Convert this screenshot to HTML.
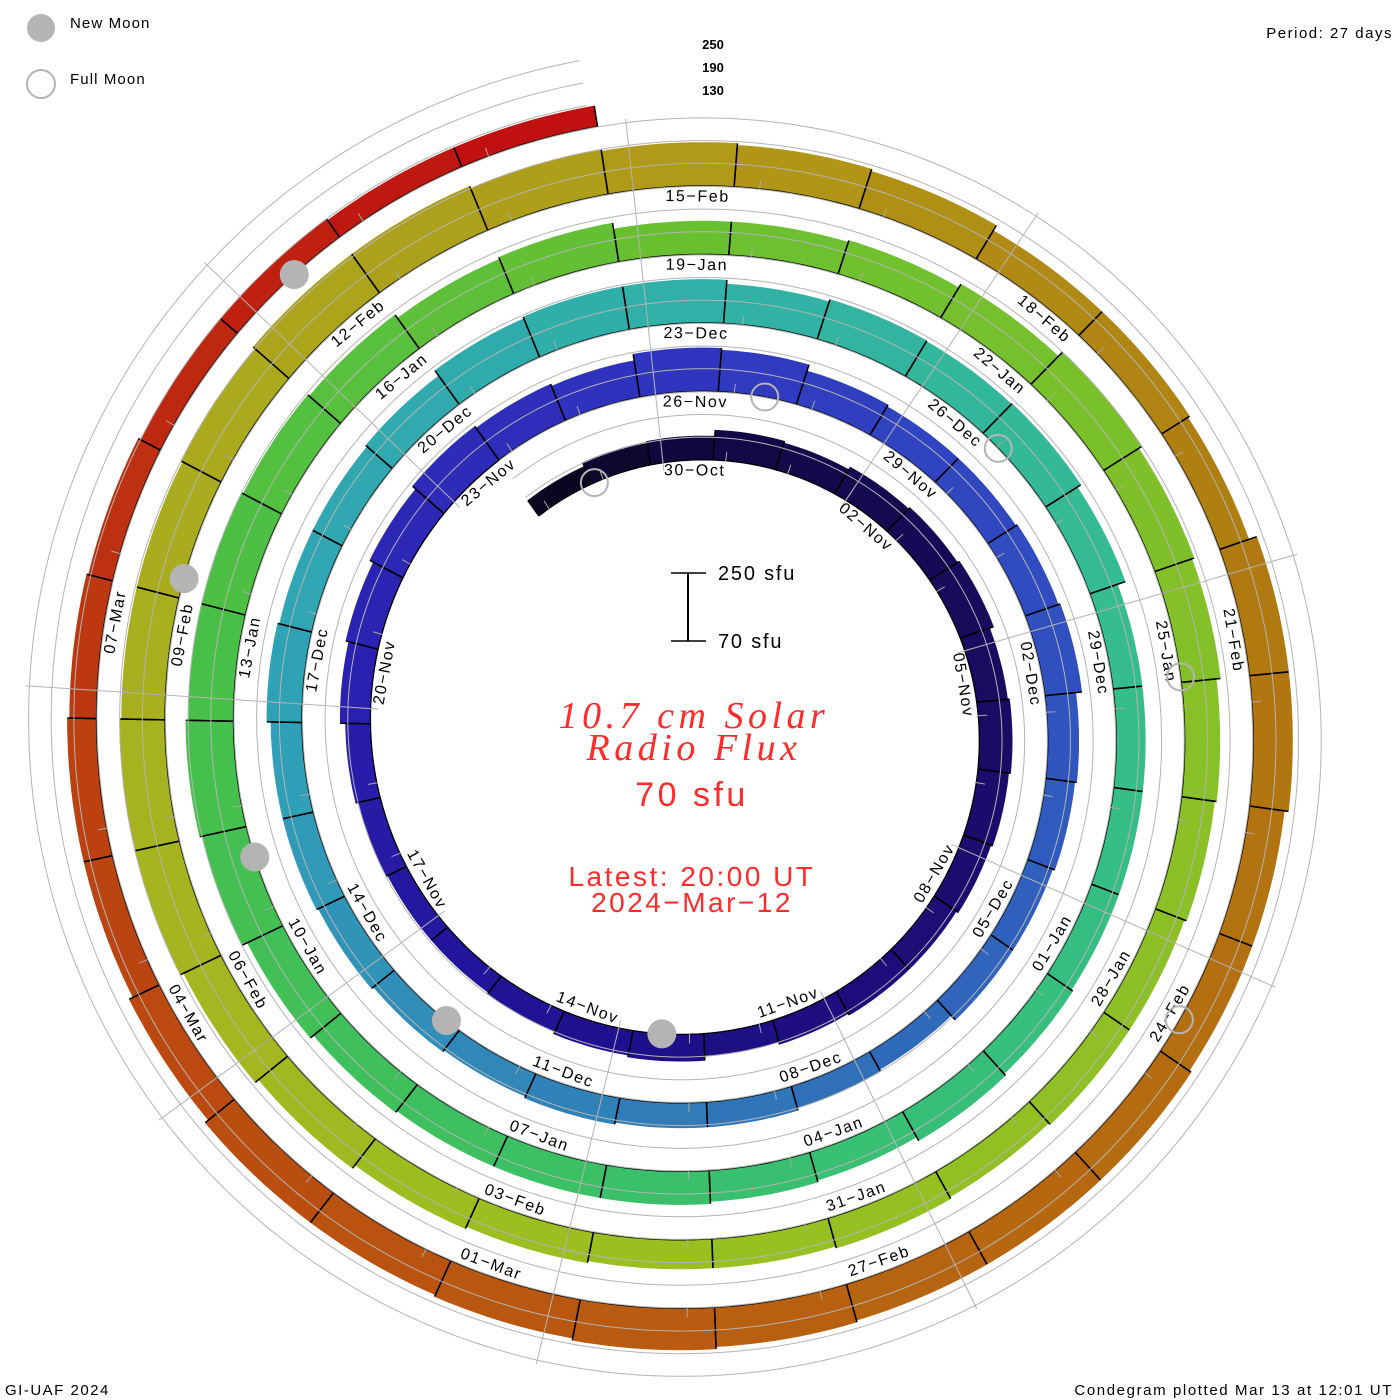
<!DOCTYPE html>
<html><head><meta charset="utf-8"><style>
html,body{margin:0;padding:0;background:#fff;}
svg{display:block;font-family:"Liberation Sans",sans-serif;}
</style></head><body>
<svg id="chart" width="1400" height="1400" viewBox="0 0 1400 1400" xmlns="http://www.w3.org/2000/svg">
<rect width="1400" height="1400" fill="#fff"/>
<g id="bars"></g>
<g id="levels"></g>
<g id="grid"></g>
<g id="ticks"></g>
<g id="labels"></g>
<g id="moons"></g>

<g>
<circle cx="41" cy="28" r="14" fill="#b4b4b4"/>
<text x="70" y="28" font-size="15" letter-spacing="1.1" fill="#000">New Moon</text>
<circle cx="41" cy="84" r="14" fill="none" stroke="#b4b4b4" stroke-width="2"/>
<text x="70" y="84" font-size="15" letter-spacing="1.1" fill="#000">Full Moon</text>
</g>
<text x="1393" y="38" font-size="15" letter-spacing="1.5" text-anchor="end">Period: 27 days</text>
<text x="713" y="49" font-size="13" font-weight="bold" text-anchor="middle">250</text>
<text x="713" y="72" font-size="13" font-weight="bold" text-anchor="middle">190</text>
<text x="713" y="95" font-size="13" font-weight="bold" text-anchor="middle">130</text>

<g>
<line x1="688" y1="573" x2="688" y2="641" stroke="#000" stroke-width="2"/>
<line x1="671" y1="573" x2="706" y2="573" stroke="#000" stroke-width="1.5"/>
<line x1="671" y1="641" x2="706" y2="641" stroke="#000" stroke-width="1.5"/>
<text x="718" y="580" font-size="20" letter-spacing="1.8">250 sfu</text>
<text x="718" y="648" font-size="20" letter-spacing="1.8">70 sfu</text>
</g>
<g fill="#ff2a2a" text-anchor="middle">
<text x="694" y="728" font-size="38" letter-spacing="4.5" font-style="italic" font-family="Liberation Serif, serif">10.7 cm Solar</text>
<text x="694" y="760" font-size="38" letter-spacing="4.5" font-style="italic" font-family="Liberation Serif, serif">Radio Flux</text>
<text x="692" y="806" font-size="34" letter-spacing="3.5">70 sfu</text>
<text x="692" y="886" font-size="28" letter-spacing="2.5">Latest: 20:00 UT</text>
<text x="692" y="912" font-size="28" letter-spacing="2.5">2024−Mar−12</text>
</g>
<text x="5" y="1395" font-size="15" letter-spacing="1.5">GI-UAF 2024</text>
<text x="1393" y="1395" font-size="15" letter-spacing="1.6" text-anchor="end">Condegram plotted Mar 13 at 12:01 UT</text>
</svg>
<script>
// Daily flux (sfu), 28-Oct-2023 .. 12-Mar-2024 (index 0 = 28-Oct)
const startDate = [2023, 9, 28];
const fluxRot1 = [120,131,133,149,144,152,157,163,152,157,152,147,141,141,136,130,141,136,130,125,125,130,136,150,158,169,180,174,168];
const fluxRot2 = [185,180,163,158,158,163,168,152,147,141,141,125,130,136,136,141,136,141,147,152,152,163,158,158,163,180,185];
const fluxRot3 = [185,174,180,178,180,169,147,147,147,147,152,158,147,152,158,158,158,163,174,190,196,190,190,185,180,169,174];
const fluxRot4 = [158,158,163,174,190,180,174,163,158,152,152,147,152,147,147,152,158,169,180,190,190,185,185,190,196,196,190];
const fluxRot5 = [185,180,174,158,158,152,174,174,163,163,169,169,169,174,180,174,169,169,158,147,147,141,136,130,130,125,125];
const flux = [].concat(fluxRot1, fluxRot2, fluxRot3, fluxRot4, fluxRot5);
// Moon phases as fractional day index (0 = 30-Oct 00UT)
const newMoons = [14.39, 43.98, 73.5, 102.96, 132.38];
const fullMoons = [-1.15, 28.39, 58.02, 87.75, 117.52];
const months = ["Jan","Feb","Mar","Apr","May","Jun","Jul","Aug","Sep","Oct","Nov","Dec"];
const levelValues = [130, 190, 250];

const NS = "http://www.w3.org/2000/svg";
const cx = 692, cy = 730, R0 = 270, PITCH = 68.5, DAY = 360/27, PX = 68/180;
const OFF = -8.9;
const FIRST = -2;
function R(t){ return R0 + PITCH*t/360; }
function pt(r,t){ const a=t*Math.PI/180; return [cx + r*Math.sin(a), cy - r*Math.cos(a)]; }
function thick(v){ return Math.max(0,(v-70)*PX); }
function mk(tag, attrs, parent){ const e=document.createElementNS(NS,tag); for(const k in attrs) e.setAttribute(k,attrs[k]); parent.appendChild(e); return e; }

const stops = [[-2,"#0a0520"],[0,"#120840"],[6,"#1a0a60"],[15,"#201090"],[21,"#2a20b0"],[27,"#3035c0"],[33,"#3050c0"],[40,"#3075b8"],[47,"#30a0b8"],[54,"#30b0a8"],[60,"#35bd90"],[67,"#38c070"],[75,"#48c048"],[81,"#68c030"],[88,"#88c028"],[95,"#9ac020"],[102,"#a8b020"],[108,"#b09a18"],[114,"#b07a10"],[121,"#b86010"],[128,"#bc4010"],[134,"#c01010"]];
function hex(h){ return [parseInt(h.substr(1,2),16),parseInt(h.substr(3,2),16),parseInt(h.substr(5,2),16)]; }
function color(i){
  for(let k=0;k<stops.length-1;k++){
    if(i>=stops[k][0] && i<=stops[k+1][0]){
      const f=(i-stops[k][0])/(stops[k+1][0]-stops[k][0]); const a=hex(stops[k][1]), b=hex(stops[k+1][1]);
      return "rgb("+a.map((v,j)=>Math.round(v+(b[j]-v)*f)).join(",")+")";
    }
  }
  return stops[stops.length-1][1];
}
function fmtDate(i){
  const d = new Date(Date.UTC(2023, 9, 30 + i));
  const dd = String(d.getUTCDate()).padStart(2,"0");
  return dd + "−" + months[d.getUTCMonth()];
}

const gBars = document.getElementById("bars");
const gOut = mk("g",{},gBars);
const tStart = OFF + DAY*FIRST, tEnd = OFF + DAY*(FIRST + flux.length);
flux.forEach((v,k)=>{
  const i = FIRST + k, a = OFF + DAY*i, b = a + DAY, th = thick(v);
  const N = 12; let inner=[], outer=[];
  for(let s=0;s<=N;s++){ const t=a+(b-a)*s/N; inner.push(pt(R(t),t)); outer.push(pt(R(t)+th,t)); }
  const d = "M"+inner.map(p=>p[0].toFixed(1)+","+p[1].toFixed(1)).join("L")+"L"+outer.reverse().map(p=>p[0].toFixed(1)+","+p[1].toFixed(1)).join("L")+"Z";
  const p = mk("path",{d:d, fill:color(i), stroke:color(i), "stroke-width":0.6},gBars);
  
  
  const il = mk("path",{d:"M"+inner.map(q=>q[0].toFixed(1)+","+q[1].toFixed(1)).join("L"), fill:"none", stroke:"#000", "stroke-width":1.3},gOut);
  
  
  [a,b].forEach(t=>{
    const p1=pt(R(t),t), p2=pt(R(t)+th,t);
    const ln = mk("line",{x1:p1[0],y1:p1[1],x2:p2[0],y2:p2[1],stroke:"#000","stroke-width":1.5},gOut);
    
    
  });
});
gBars.appendChild(gOut);

const gLev = document.getElementById("levels");
levelValues.forEach(lv=>{
  let pts=[]; for(let t=tStart;t<=tEnd+0.01;t+=1){ pts.push(pt(R(t)+thick(lv),t)); }
  const e = mk("path",{d:"M"+pts.map(p=>p[0].toFixed(1)+","+p[1].toFixed(1)).join("L"), fill:"none", stroke:"#b4b4b4", "stroke-width":1},gLev);
  
  
});

const gGrid = document.getElementById("grid");
for(let k=0;k<9;k++){
  const t = -6.2 + 40*k;
  const p1 = pt(R(t)-8,t), p2 = pt(R(t+1440)+72,t);
  const e = mk("line",{x1:p1[0],y1:p1[1],x2:p2[0],y2:p2[1],stroke:"#b4b4b4","stroke-width":1},gGrid);
  
  
}

const gT = document.getElementById("ticks");
for(let k=0;k<flux.length;k++){
  const i = FIRST + k, t = -6.2 + DAY*i;
  if(t<tStart||t>tEnd) continue;
  const p1=pt(R(t)-1,t), p2=pt(R(t)+9,t);
  const e = mk("line",{x1:p1[0],y1:p1[1],x2:p2[0],y2:p2[1],stroke:"#a8a8a8","stroke-width":1},gT);
  
  
}

const gL = document.getElementById("labels");
for(let i=0;i<=129;i+=3){
  const t = 0.6 + DAY*i; const p = pt(R(t)-11,t);
  const tm = ((t%360)+360)%360; const rot = (tm>90 && tm<270) ? t-180 : t;
  const e = mk("text",{x:p[0].toFixed(1),y:p[1].toFixed(1),"font-size":16,"letter-spacing":1.6,"text-anchor":"middle","dominant-baseline":"central",transform:"rotate("+rot.toFixed(2)+" "+p[0].toFixed(1)+" "+p[1].toFixed(1)+")"},gL);
  e.textContent = fmtDate(i);
  
  
}

const gM = document.getElementById("moons");
newMoons.forEach(m=>{
  const t=-6.2+DAY*m, p=pt(R(t),t);
  const e = mk("circle",{cx:p[0],cy:p[1],r:14.5,fill:"#b4b4b4"},gM);
  
  
});
fullMoons.forEach(m=>{
  const t=-6.2+DAY*m, p=pt(R(t),t);
  const e = mk("circle",{cx:p[0],cy:p[1],r:13.5,fill:"none",stroke:"#b4b4b4","stroke-width":2},gM);
  
  
});
</script>
</body></html>
